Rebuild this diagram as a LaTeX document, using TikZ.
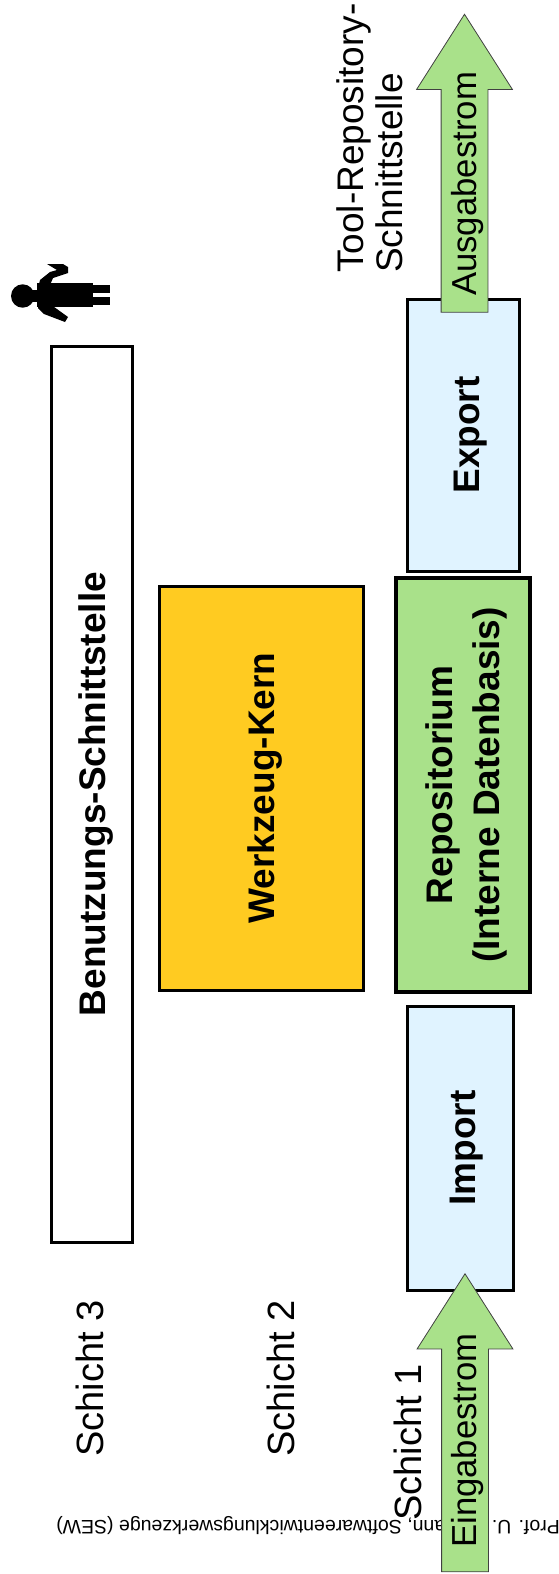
\documentclass[tikz,border=0pt]{standalone}
\usepackage{fontspec}
\setmainfont{Liberation Sans}
\usetikzlibrary{positioning, shapes.arrows}

\definecolor{boxblue}{HTML}{E0F3FF}
\definecolor{boxgreen}{HTML}{A9E18A}
\definecolor{boxyellow}{HTML}{FFCB21}

\tikzset{
  layerbox/.style={draw,line width=3pt,rotate=90,font=\fontsize{37}{47}\selectfont\bfseries,align=center,inner sep=0pt,text depth=0pt},
  layerlabel/.style={rotate=90,font=\fontsize{38}{38}\selectfont,inner sep=0pt},
  flowarrow/.style={single arrow,draw=black!75,fill=boxgreen,line width=0.8pt,shape border rotate=90,
    single arrow head extend=24.5pt,single arrow head indent=0pt,single arrow tip angle=65,
    minimum width=95pt,inner xsep=23pt,inner ysep=0pt,anchor=tip},
  flowlabel/.style={rotate=90,font=\fontsize{34.7}{38}\selectfont,inner sep=0pt}
}

\begin{document}
\begin{tikzpicture}[x=1pt,y=-1pt,on grid]

   \useasboundingbox (0,0) rectangle (558,1574);

   \node[rotate=180,font=\fontsize{19.5}{22}\selectfont,inner sep=0pt] (footer) at (308,1526) {Prof. U. Aßmann, Softwareentwicklungswerkzeuge (SEW)};

   \node[layerbox,fill=boxgreen,line width=4pt,minimum width=414pt,minimum height=134pt] (repo) at (463,785) {Repositorium\\(Interne Datenbasis)};
   \node[layerbox,fill=boxblue,minimum width=272pt,minimum height=112pt,text height=33pt] (export) [above=350pt of repo] {Export};
   \node[layerbox,fill=boxblue,minimum width=284pt,minimum height=106pt,text height=31pt] (import) [below=363pt of repo,yshift=3pt] {Import};
   \node[layerbox,fill=boxyellow,minimum width=404pt,minimum height=204pt] (kern) [left=202pt of repo,xshift=-3pt] {Werkzeug-Kern};
   \node[layerbox,fill=white,minimum width=896pt,minimum height=81pt] (ui) at (92,794) {Benutzungs-Schnittstelle};

   \node[layerlabel,anchor=south west] (schicht3) at (104,1457) {Schicht 3};
   \node[layerlabel,anchor=south west] (schicht2) at (295,1457) {Schicht 2};
   \node[layerlabel,anchor=south west] (schicht1) at (422,1521) {Schicht 1};

   \node[layerlabel,anchor=north west,align=left,font=\fontsize{37}{39}\selectfont] (tool) at (336,273) {Tool-Repository-\\Schnittstelle};

   \node[flowarrow,minimum height=298pt] (ausgabe) at (464.5,13.5) {};
   \node[flowarrow,minimum height=298pt] (eingabe) at (465,1273) {};
   \node[flowlabel,anchor=south west] (ausgabetext) at (484,296) {Ausgabestrom};
   \node[flowlabel,anchor=south west] (eingabetext) at (484,1548) {Eingabestrom};

   % person
   \fill (22.7,296) circle (11.7pt);
   \fill (30,290) rectangle (40,302);
   \fill (37,283) rectangle (93,307);
   \fill (80,285) rectangle (110,293);
   \fill (80,297) rectangle (110,304.5);
   \fill (38,288) -- (40,280) -- (50,272) -- (57,270) -- (47,264) -- (63,264) -- (68,267) -- (68,273) -- (53,278) -- (50,285) -- cycle;
   \fill (38,303) -- (38,308) -- (44,314) -- (65,322) -- (68,317) -- (50,304) -- cycle;

\end{tikzpicture}
\end{document}
